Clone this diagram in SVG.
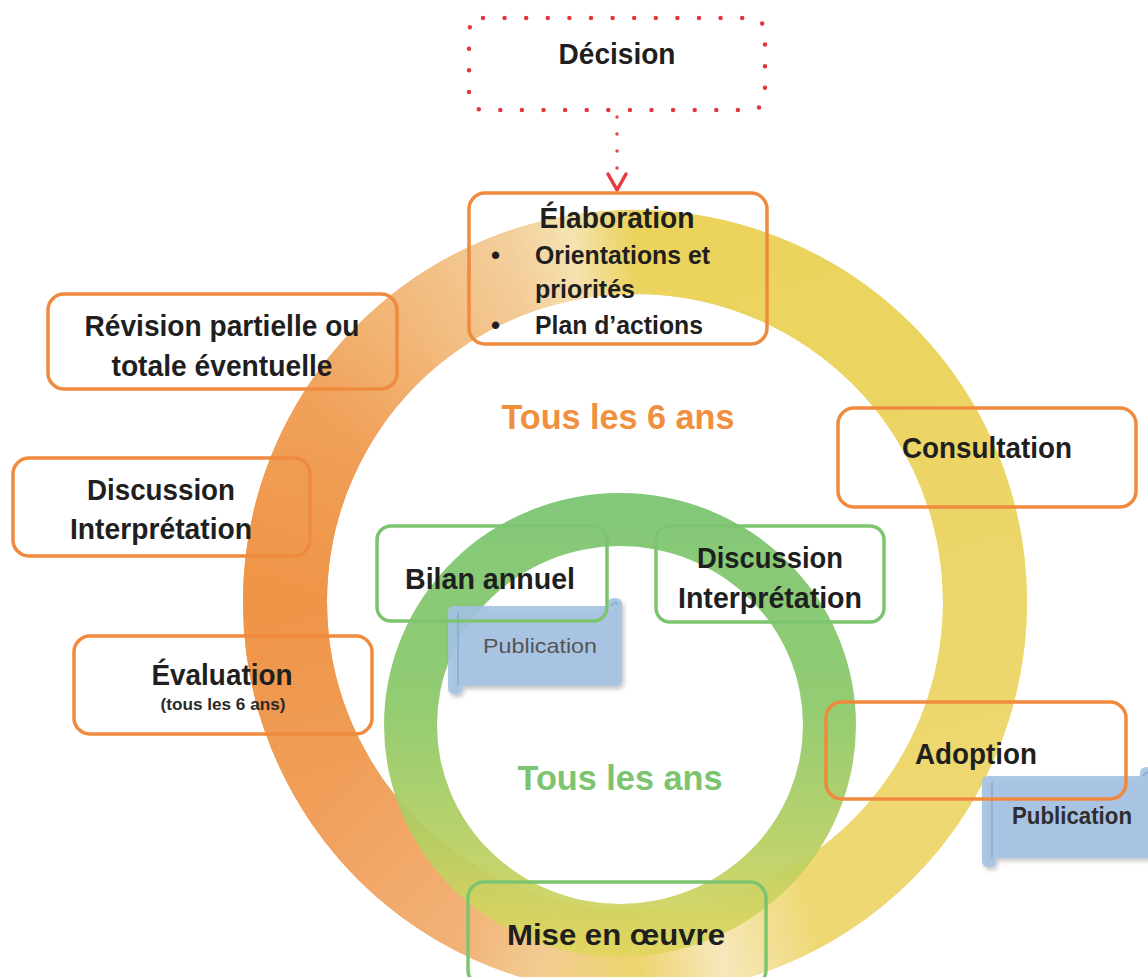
<svg xmlns="http://www.w3.org/2000/svg" width="1148" height="977" viewBox="0 0 1148 977">
<style>
text{font-family:"Liberation Sans",Arial,sans-serif;}
.t{font-weight:bold;font-size:30px;fill:#1f1f1f;text-anchor:middle;}
.b{font-weight:bold;font-size:26px;fill:#1f1f1f;}
.ob{fill:none;stroke:#F08A3E;stroke-width:3.5;}
.gb{fill:none;stroke:#7DC46F;stroke-width:3.5;}
.seg{fill:none;stroke-width:84;}
.scroll{fill:#A3C2E2;fill-opacity:0.9;}
.curl{fill:none;stroke:#86A9CF;stroke-width:1.5;}
</style>
<defs>
<linearGradient id="gBase" gradientUnits="userSpaceOnUse" x1="243" y1="0" x2="1027" y2="0">
<stop offset="0" stop-color="#EF9446"/>
<stop offset="0.3" stop-color="#F2B475"/>
<stop offset="0.42" stop-color="#EFD27C"/>
<stop offset="1" stop-color="#EDD86E"/>
</linearGradient>
<linearGradient id="sA" gradientUnits="userSpaceOnUse" x1="635" y1="252" x2="810" y2="905"><stop offset="0" stop-color="#EBD35C"/><stop offset="1" stop-color="#EED873"/></linearGradient>
<linearGradient id="sB" gradientUnits="userSpaceOnUse" x1="810" y1="905" x2="635" y2="952"><stop offset="0" stop-color="#EED873"/><stop offset="0.55" stop-color="#F6E8BC"/><stop offset="1" stop-color="#EED470"/></linearGradient>
<linearGradient id="sC" gradientUnits="userSpaceOnUse" x1="635" y1="952" x2="460" y2="905"><stop offset="0" stop-color="#EED470"/><stop offset="0.5" stop-color="#F1CB92"/><stop offset="1" stop-color="#F2AF74"/></linearGradient>
<linearGradient id="sD" gradientUnits="userSpaceOnUse" x1="460" y1="905" x2="332" y2="777"><stop offset="0" stop-color="#F2AF74"/><stop offset="1" stop-color="#F09E58"/></linearGradient>
<linearGradient id="sE" gradientUnits="userSpaceOnUse" x1="332" y1="777" x2="285" y2="602"><stop offset="0" stop-color="#F09E58"/><stop offset="1" stop-color="#EF9447"/></linearGradient>
<linearGradient id="sF" gradientUnits="userSpaceOnUse" x1="285" y1="602" x2="332" y2="427"><stop offset="0" stop-color="#EF9447"/><stop offset="1" stop-color="#F0A058"/></linearGradient>
<linearGradient id="sG" gradientUnits="userSpaceOnUse" x1="332" y1="427" x2="410" y2="334"><stop offset="0" stop-color="#F0A058"/><stop offset="1" stop-color="#F2B778"/></linearGradient>
<linearGradient id="sH" gradientUnits="userSpaceOnUse" x1="410" y1="334" x2="515" y2="273"><stop offset="0" stop-color="#F2B778"/><stop offset="1" stop-color="#F3CD9A"/></linearGradient>
<linearGradient id="sI" gradientUnits="userSpaceOnUse" x1="515" y1="273" x2="574" y2="257"><stop offset="0" stop-color="#F3CD9A"/><stop offset="1" stop-color="#F5E2B0"/></linearGradient>
<linearGradient id="sJ" gradientUnits="userSpaceOnUse" x1="574" y1="257" x2="635" y2="252"><stop offset="0" stop-color="#F5E2B0"/><stop offset="1" stop-color="#EBD35C"/></linearGradient>
<linearGradient id="gGreen" gradientUnits="userSpaceOnUse" x1="0" y1="493" x2="0" y2="957">
<stop offset="0" stop-color="#78C46F"/>
<stop offset="0.45" stop-color="#8AC868"/>
<stop offset="0.72" stop-color="#B0CE62"/>
<stop offset="1" stop-color="#E2D65E"/>
</linearGradient>
<filter id="sh" x="-10%" y="-10%" width="130%" height="140%">
<feDropShadow dx="2" dy="3" stdDeviation="2" flood-color="#000" flood-opacity="0.25"/>
</filter>
</defs>
<rect width="1148" height="977" fill="#fff"/>

<g id="rings">
<g id="outer-ring">
<circle cx="635" cy="602" r="350" class="seg" stroke="url(#gBase)"/>
<path class="seg" stroke="url(#sA)" d="M635 252A350 350 0 0 1 810 905.1"/>
<path class="seg" stroke="url(#sB)" d="M811.5 904.3A350 350 0 0 1 635 952"/>
<path class="seg" stroke="url(#sC)" d="M637 952A350 350 0 0 1 460 905.1"/>
<path class="seg" stroke="url(#sD)" d="M461.5 906A350 350 0 0 1 331.9 777"/>
<path class="seg" stroke="url(#sE)" d="M332.8 778.5A350 350 0 0 1 285 602"/>
<path class="seg" stroke="url(#sF)" d="M285 604A350 350 0 0 1 331.9 427"/>
<path class="seg" stroke="url(#sG)" d="M331 428.5A350 350 0 0 1 410 333.9"/>
<path class="seg" stroke="url(#sH)" d="M408.8 335A350 350 0 0 1 515.3 273.1"/>
<path class="seg" stroke="url(#sI)" d="M513.8 273.6A350 350 0 0 1 574.2 257.3"/>
<path class="seg" stroke="url(#sJ)" d="M573 257.5A350 350 0 0 1 636 252"/>
</g>
<path id="green-ring" fill="url(#gGreen)" fill-opacity="0.93" fill-rule="evenodd" d="M384 725A236 232 0 1 0 856 725A236 232 0 1 0 384 725ZM437 725A183 179 0 1 0 803 725A183 179 0 1 0 437 725Z"/>
</g>

<g id="connectors">
<line x1="617" y1="117" x2="617" y2="170" stroke="#E04A4A" stroke-width="3.5" stroke-linecap="round" stroke-dasharray="0 17"/>
<polyline points="608,174 617,190 626,174" fill="none" stroke="#E8393F" stroke-width="3.5" stroke-linecap="round" stroke-linejoin="round"/>
</g>

<g id="publication1">
<path class="scroll" filter="url(#sh)" d="M448 612Q448 606 454 606L608 606L608 603Q608 598 615 598Q622 598 622 604L622 680Q622 686 616 686L462 686L462 689Q462 694 455 694Q448 694 448 688Z"/>
<path class="curl" d="M458 612L458 686M611 606Q614 601 618 604"/>
<text x="540" y="653" font-size="21" fill="#555" text-anchor="middle" textLength="114" lengthAdjust="spacingAndGlyphs">Publication</text>
</g>

<g id="publication2">
<path class="scroll" filter="url(#sh)" d="M982 782Q982 776 988 776L1140 776L1140 773Q1140 767 1147 767Q1154 767 1154 773L1154 858L996 858L996 861Q996 867 989 867Q982 867 982 861Z"/>
<path class="curl" d="M992 782L992 858M1143 776Q1146 771 1150 773"/>
<text x="1072" y="824" font-size="23" font-weight="bold" fill="#2e2e2e" text-anchor="middle" textLength="120" lengthAdjust="spacingAndGlyphs">Publication</text>
</g>

<g id="decision">
<rect x="469" y="18" width="296" height="92" rx="14" fill="none" stroke="#E5363A" stroke-width="4.5" stroke-linecap="round" stroke-dasharray="0 21.6"/>
<text class="t" x="617" y="64" font-size="29" textLength="117" lengthAdjust="spacingAndGlyphs">Décision</text>
</g>

<g id="elaboration">
<rect class="ob" x="469" y="193" width="298" height="151" rx="16"/>
<text class="t" x="617" y="228" textLength="155" lengthAdjust="spacingAndGlyphs">Élaboration</text>
<text class="b" x="491" y="264">•</text>
<text class="b" x="535" y="264" textLength="175" lengthAdjust="spacingAndGlyphs">Orientations et</text>
<text class="b" x="535" y="298" textLength="100" lengthAdjust="spacingAndGlyphs">priorités</text>
<text class="b" x="491" y="334">•</text>
<text class="b" x="535" y="334" textLength="168" lengthAdjust="spacingAndGlyphs">Plan d’actions</text>
</g>

<g id="revision">
<rect class="ob" x="48" y="294" width="349" height="95" rx="16"/>
<text class="t" x="222" y="336" textLength="275" lengthAdjust="spacingAndGlyphs">Révision partielle ou</text>
<text class="t" x="222" y="376" textLength="221" lengthAdjust="spacingAndGlyphs">totale éventuelle</text>
</g>

<g id="discussion-outer">
<rect class="ob" x="13" y="458" width="297" height="98" rx="16"/>
<text class="t" x="161" y="500" textLength="148" lengthAdjust="spacingAndGlyphs">Discussion</text>
<text class="t" x="161" y="539" textLength="182" lengthAdjust="spacingAndGlyphs">Interprétation</text>
</g>

<g id="evaluation">
<rect class="ob" x="74" y="636" width="298" height="98" rx="16"/>
<text class="t" x="222" y="685" textLength="141" lengthAdjust="spacingAndGlyphs">Évaluation</text>
<text x="223" y="710" font-size="16" font-weight="bold" fill="#2a2a2a" text-anchor="middle" textLength="125" lengthAdjust="spacingAndGlyphs">(tous les 6 ans)</text>
</g>

<g id="consultation">
<rect class="ob" x="838" y="408" width="298" height="99" rx="16"/>
<text class="t" x="987" y="458" textLength="170" lengthAdjust="spacingAndGlyphs">Consultation</text>
</g>

<g id="adoption">
<rect class="ob" x="826" y="702" width="300" height="97" rx="16"/>
<text class="t" x="976" y="764" textLength="122" lengthAdjust="spacingAndGlyphs">Adoption</text>
</g>

<g id="cycle-labels">
<text x="618" y="429" font-size="35" font-weight="bold" fill="#F0903F" text-anchor="middle" textLength="233" lengthAdjust="spacingAndGlyphs">Tous les 6 ans</text>
<text x="620" y="790" font-size="35" font-weight="bold" fill="#7CC470" text-anchor="middle" textLength="205" lengthAdjust="spacingAndGlyphs">Tous les ans</text>
</g>

<g id="bilan">
<rect class="gb" x="377" y="526" width="230" height="95" rx="14"/>
<text class="t" x="490" y="589" textLength="170" lengthAdjust="spacingAndGlyphs">Bilan annuel</text>
</g>

<g id="discussion-inner">
<rect class="gb" x="656" y="526" width="228" height="96" rx="14"/>
<text class="t" x="770" y="568" textLength="146" lengthAdjust="spacingAndGlyphs">Discussion</text>
<text class="t" x="770" y="608" textLength="184" lengthAdjust="spacingAndGlyphs">Interprétation</text>
</g>

<g id="mise-en-oeuvre">
<rect class="gb" x="468" y="882" width="298" height="104" rx="16"/>
<text class="t" x="616" y="945" font-size="31" textLength="218" lengthAdjust="spacingAndGlyphs">Mise en œuvre</text>
</g>
</svg>
